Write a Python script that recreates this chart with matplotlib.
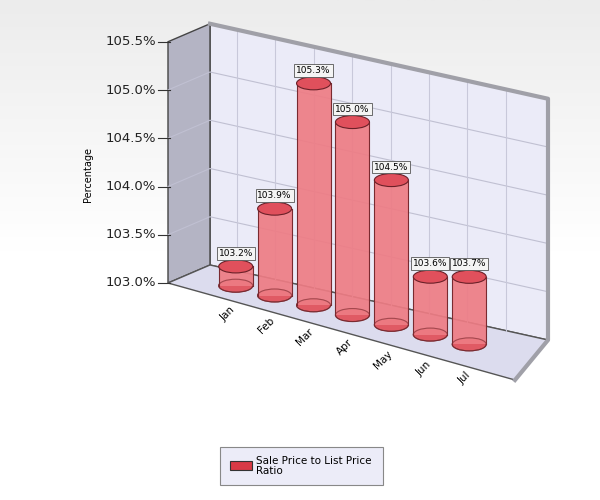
import matplotlib.pyplot as plt
import numpy as np
from matplotlib.patches import Polygon, Ellipse, Rectangle

months = ['Jan', 'Feb', 'Mar', 'Apr', 'May', 'Jun', 'Jul']
ratio = [103.2, 103.9, 105.3, 105.0, 104.5, 103.6, 103.7]
yticks = [103.0, 103.5, 104.0, 104.5, 105.0, 105.5]
vmin, vmax = 103.0, 105.5
umin, umax = -1.2, 7.6
pxv = 96.5  # pixels per percent


def proj(u, v, d):
    # d: 0 front, 1 back
    t = (u - umin) / (umax - umin)
    xf, yf = 168 + 347 * t, 283 + 97 * t
    xb, yb = 210 + 338 * t, 265 + 75 * t
    x = xf + (xb - xf) * d
    y = yf + (yb - yf) * d
    return x, y - (v - vmin) * pxv


fig = plt.figure(figsize=(6, 5), dpi=100)
ax = fig.add_axes([0, 0, 1, 1])
ax.set_xlim(0, 600)
ax.set_ylim(500, 0)
ax.axis('off')

# background gradient
grad = np.linspace(0, 1, 256)[:, None]
ax.imshow(grad, extent=[0, 600, 500, 0], cmap=plt.matplotlib.colors.LinearSegmentedColormap.from_list('bg', ['#ececec', '#ffffff', '#ffffff']), aspect='auto', zorder=0)

# walls
back = [proj(umin, vmin, 1), proj(umax, vmin, 1), proj(umax, vmax, 1), proj(umin, vmax, 1)]
left = [proj(umin, vmin, 0), proj(umin, vmin, 1), proj(umin, vmax, 1), proj(umin, vmax, 0)]
floor = [proj(umin, vmin, 0), proj(umax, vmin, 0), proj(umax, vmin, 1), proj(umin, vmin, 1)]
ax.add_patch(Polygon(back, closed=True, fc='#ebebf8', ec='#555555', lw=1, zorder=1))
ax.add_patch(Polygon(left, closed=True, fc='#b4b4c4', ec='#444444', lw=1, zorder=1))
ax.add_patch(Polygon(floor, closed=True, fc='#dcdcee', ec='#555555', lw=1, zorder=1))
# thick shadow edges
ax.plot(*zip(proj(umin, vmax, 1), proj(umax, vmax, 1), proj(umax, vmin, 1), proj(umax, vmin, 0)),
        color='#a0a0a8', lw=3, zorder=1.5)

# gridlines
for v in yticks[1:-1]:
    ax.plot(*zip(proj(umin, v, 0), proj(umin, v, 1), proj(umax, v, 1)), color='#c0c0d2', lw=0.8, zorder=1.2)
for u in np.arange(-0.5, 7.0, 1.0):
    ax.plot(*zip(proj(u, vmin, 1), proj(u, vmax, 1)), color='#c8c8da', lw=0.8, zorder=1.2)

# y ticks
for v in yticks:
    x, y = proj(umin, v, 0)
    ax.plot([x - 10, x + 2], [y, y], color='#333333', lw=0.8, zorder=2)
    ax.text(x - 12, y, f'{v:.1f}%', ha='right', va='center', fontsize=9.5, color='#222222')
ax.text(88, 175, 'Percentage', rotation=90, ha='center', va='center', fontsize=7)

# x tick labels
for i, m in enumerate(months):
    x, y = proj(i, vmin, 0)
    ax.text(x + 14, y + 8, m, rotation=45, ha='right', va='top', fontsize=7.5, rotation_mode='anchor')

# cylinders
w, eh = 34, 13
for i, v in enumerate(ratio):
    xb, yb = proj(i, vmin, 0.5)
    xt, yt = proj(i, v, 0.5)
    ax.add_patch(Ellipse((xb, yb), w, eh, fc='#e05a64', ec='#7a2a30', lw=0.8, zorder=3))
    ax.add_patch(Rectangle((xb - w / 2, yt), w, yb - yt, fc='#ee7c84', ec='none', zorder=3.1, alpha=0.92))
    ax.plot([xb - w / 2, xb - w / 2], [yt, yb], color='#7a2a30', lw=0.8, zorder=3.2)
    ax.plot([xb + w / 2, xb + w / 2], [yt, yb], color='#7a2a30', lw=0.8, zorder=3.2)
    ax.add_patch(Ellipse((xb, yb), w, eh, fc='none', ec='#7a2a30', lw=0.8, zorder=3.15, alpha=0.6))
    ax.add_patch(Ellipse((xt, yt), w, eh, fc='#e0505c', ec='#6a2028', lw=0.8, zorder=3.3))
    ax.text(xt, yt - 13, f'{v:.1f}%', ha='center', va='center', fontsize=6.5, zorder=4,
            bbox=dict(boxstyle='square,pad=0.2', fc='#f4f4f4', ec='#555555', lw=0.6))

# legend
ax.add_patch(Rectangle((220, 447), 163, 38, fc='#ececf8', ec='#888888', lw=0.8, zorder=2))
ax.add_patch(Rectangle((230, 461), 22, 9, fc='#d83a46', ec='#333333', lw=0.8, zorder=3))
ax.text(256, 466, 'Sale Price to List Price\nRatio', ha='left', va='center', fontsize=7.5,
        linespacing=0.95, zorder=3)

fig.savefig('out.png', dpi=100)
